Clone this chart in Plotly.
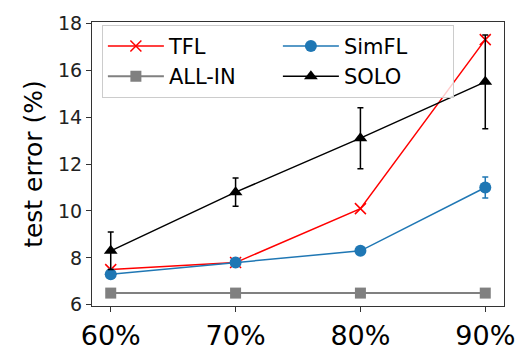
import plotly.graph_objects as go

categories = ["60%", "70%", "80%", "90%"]
tfl = [7.5, 7.8, 10.1, 17.3]
simfl = [7.3, 7.8, 8.3, 11.0]
simfl_err = [0.1, 0.1, 0.1, 0.45]
allin = [6.5, 6.5, 6.5, 6.5]
solo = [8.3, 10.8, 13.1, 15.5]
solo_err = [0.8, 0.6, 1.3, 2.0]
y_ticks = [6, 8, 10, 12, 14, 16, 18]

xi = list(range(len(categories)))
FONT = "DejaVu Sans"

fig = go.Figure()
fig.add_trace(go.Scatter(
    x=xi, y=tfl, name="TFL", mode="lines+markers", legendrank=1,
    line=dict(color="#ff0000", width=1.5),
    marker=dict(symbol="x-thin", size=11, line=dict(color="#ff0000", width=1.5), color="#ff0000")))
fig.add_trace(go.Scatter(
    x=xi, y=allin, name="ALL-IN", mode="lines+markers", legendrank=3,
    line=dict(color="#808080", width=2),
    marker=dict(symbol="square", size=11, color="#808080")))
fig.add_trace(go.Scatter(
    x=xi, y=simfl, name="SimFL", mode="lines+markers", legendrank=2,
    line=dict(color="#1f77b4", width=1.5),
    marker=dict(symbol="circle", size=12, color="#1f77b4"),
    error_y=dict(type="data", array=simfl_err, color="#1f77b4", thickness=1.5, width=3)))
fig.add_trace(go.Scatter(
    x=xi, y=solo, name="SOLO", mode="lines+markers", legendrank=4,
    line=dict(color="#000000", width=1.5),
    marker=dict(symbol="triangle-up", size=12, color="#000000"),
    error_y=dict(type="data", array=solo_err, color="#000000", thickness=1.5, width=3)))

fig.update_layout(
    width=531, height=363,
    margin=dict(l=92, r=27, t=14, b=35),
    paper_bgcolor="white", plot_bgcolor="white",
    font=dict(family=FONT, color="#000000"),
    legend=dict(
        orientation="h", x=0.024, y=0.99, xanchor="left", yanchor="top",
        entrywidth=104, entrywidthmode="pixels",
        font=dict(family=FONT, size=21, color="#000000"),
        bgcolor="rgba(255,255,255,0.8)", bordercolor="#cccccc", borderwidth=1,
        tracegroupgap=0, itemwidth=56,
    ),
    xaxis=dict(
        range=[-0.15, 3.15], tickmode="array", tickvals=xi, ticktext=categories,
        showgrid=False, zeroline=False, showline=True, mirror=True,
        linecolor="#333333", linewidth=1.2, ticks="outside", ticklen=5,
        tickcolor="#333333", tickfont=dict(family=FONT, size=27, color="#000000"),
    ),
    yaxis=dict(
        range=[5.95, 18.05], tickmode="array", tickvals=y_ticks,
        showgrid=False, zeroline=False, showline=True, mirror=True,
        linecolor="#333333", linewidth=1.2, ticks="outside", ticklen=5,
        tickcolor="#333333", tickfont=dict(family=FONT, size=19, color="#222222"),
        title=dict(text="test error (%)", font=dict(family=FONT, size=25, color="#000000"), standoff=8),
    ),
)

fig.write_html("out.html")
